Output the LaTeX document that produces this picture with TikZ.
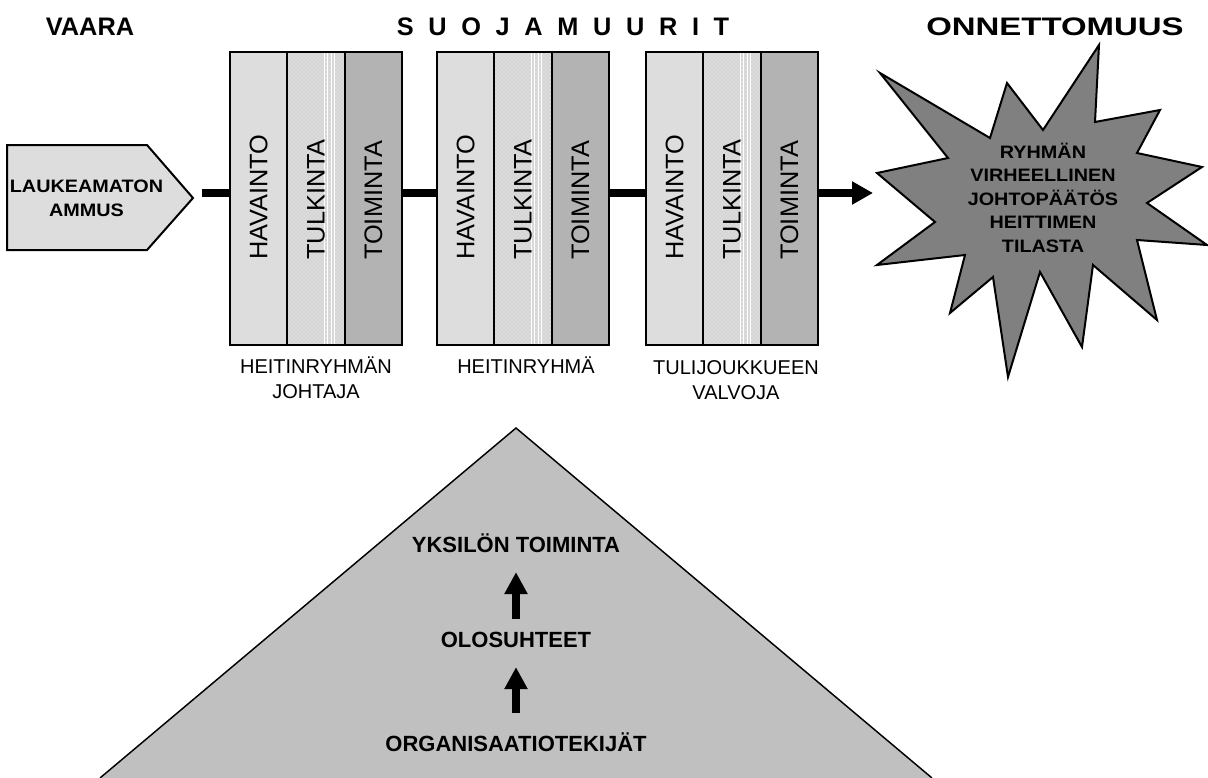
\documentclass[tikz,border=0pt]{standalone}
\usepackage{fontspec}
\setmainfont{Liberation Sans}
\newfontfamily\widesans{Liberation Sans}[FakeStretch=1.1]
\newfontfamily\broadsans{Liberation Sans}[FakeStretch=1.3]
\usetikzlibrary{arrows.meta,patterns}

\definecolor{lightcol}{HTML}{DDDDDD}
\definecolor{midcol}{HTML}{DCDCDC}
\definecolor{dotcol}{HTML}{BDBDBD}
\definecolor{darkcol}{HTML}{B3B3B3}
\definecolor{stargray}{HTML}{808080}
\definecolor{pyrgray}{HTML}{C0C0C0}

\begin{document}
\begin{tikzpicture}[x=0.75pt,y=-0.75pt,
  outline/.style={draw=black,line width=1.5pt},
  heading/.style={font=\bfseries\fontsize{19}{23}\selectfont, inner sep=0pt},
  walltext/.style={font=\fontsize{19}{23}\selectfont, inner sep=0pt, rotate=90, anchor=west},
  boldtext/.style={font=\widesans\bfseries\fontsize{13.5}{17.6}\selectfont, align=center, inner sep=0pt},
  rolelabel/.style={font=\fontsize{15}{18.75}\selectfont, align=center, inner sep=0pt},
  pyrtext/.style={font=\bfseries\fontsize{16.5}{20}\selectfont, inner sep=0pt, text height=11.8pt, text depth=0pt},
  conn/.style={line width=6pt},
  uparrow/.style={line width=6pt, -{Triangle[length=16.5pt,width=16.5pt]}},
  column/.style={inner sep=0pt, outer sep=0pt, minimum width=43pt, minimum height=219.75pt, anchor=north west}
]
\useasboundingbox (0,0) rectangle (1208,778);

% headings
\node[heading] (hdanger) at (90,27) {VAARA};
\node[heading] (hwalls) at (563,27) {S\hspace{11pt}U\hspace{11pt}O\hspace{11pt}J\hspace{11pt}A\hspace{11pt}M\hspace{11pt}U\hspace{11pt}U\hspace{11pt}R\hspace{11pt}I\hspace{11pt}T};
\node[heading, font=\broadsans\bfseries\fontsize{19}{23}\selectfont] (haccident) at (1055,27) {ONNETTOMUUS};

% the hazard: pointed box
\draw[outline, fill=lightcol] (7,145) -- (147,145) -- (193,198) -- (147,250) -- (7,250) -- cycle;
\node[boldtext] (shell) at (86.5,198.5) {LAUKEAMATON\\AMMUS};
\coordinate (shelltip) at (202,193);

% protective walls: perception, interpretation, action
\foreach \gx/\gn in {230/g1,437/g2,646/g3}{
  \node[column, fill=lightcol] (\gn-a) at (\gx,52) {};
  \node[column, fill=midcol] (\gn-b) at ({\gx+57.33},52) {};
  \fill[pattern=crosshatch dots, pattern color=dotcol] (\gn-b.north west) rectangle (\gn-b.south east);
  \foreach \dx in {37,40,44,47}
    \draw[white, line width=0.5pt] ({\gx+57.33+\dx},53) -- ({\gx+57.33+\dx},344);
  \node[column, fill=darkcol] (\gn-c) at ({\gx+114.67},52) {};
  \draw[outline] (\gn-a.north west) rectangle (\gn-c.south east);
  \draw[outline] (\gn-b.north west) -- (\gn-b.south west) (\gn-b.north east) -- (\gn-b.south east);
  \node[column, minimum width=129pt] (\gn) at (\gx,52) {};
  \node[walltext] at ({\gx+28.67},260) {HAVAINTO};
  \node[walltext] at ({\gx+86},260) {TULKINTA};
  \node[walltext] at ({\gx+143.33},260) {TOIMINTA};
}

% roles below the walls
\node[rolelabel] (role1) at (316,378) {HEITINRYHMÄN\\JOHTAJA};
\node[rolelabel] (role2) at (526,365.5) {HEITINRYHMÄ};
\node[rolelabel] (role3) at (736,379.7) {TULIJOUKKUEEN\\VALVOJA};

% the accident: burst
\draw[outline, fill=stargray, line join=miter]
  (880,73) -- (990,138) -- (1007,83) -- (1043,130) -- (1099,45) -- (1095,122)
  -- (1160,110) -- (1137,153) -- (1202,167) -- (1147,203) -- (1207,245)
  -- (1137,240) -- (1157,320) -- (1093,265) -- (1082,347) -- (1040,272)
  -- (1008,377) -- (993,277) -- (950,313) -- (965,255) -- (877,265)
  -- (935,222) -- (877,173) -- (948,158) -- cycle;
\node[boldtext] (outcome) at (1043,197.5) {RYHMÄN\\VIRHEELLINEN\\JOHTOPÄÄTÖS\\HEITTIMEN\\TILASTA};
\coordinate (burstin) at (873,193);

% chain of connectors
\draw[conn] (shelltip) -- (g1.west |- shelltip);
\draw[conn] (g1.east |- shelltip) -- (g2.west |- shelltip);
\draw[conn] (g2.east |- shelltip) -- (g3.west |- shelltip);
\draw[conn, -{Triangle[length=15.75pt,width=16.5pt]}] (g3.east |- shelltip) -- (burstin);

% pyramid of factors
\fill[pyrgray] (516,428) -- (932,778) -- (100,778) -- cycle;
\draw[black, line width=1.1pt] (100,778) -- (516,428) -- (932,778);
\node[pyrtext] (indiv) at (516,545) {YKSILÖN TOIMINTA};
\node[pyrtext] (cond) at (516,640) {OLOSUHTEET};
\node[pyrtext] (org) at (516,743.5) {ORGANISAATIOTEKIJÄT};
\draw[uparrow, shorten <=9.75pt, shorten >=14.25pt] (cond.north) -- (indiv.south);
\draw[uparrow, shorten <=16.5pt, shorten >=14.25pt] (org.north) -- (cond.south);
\end{tikzpicture}
\end{document}
